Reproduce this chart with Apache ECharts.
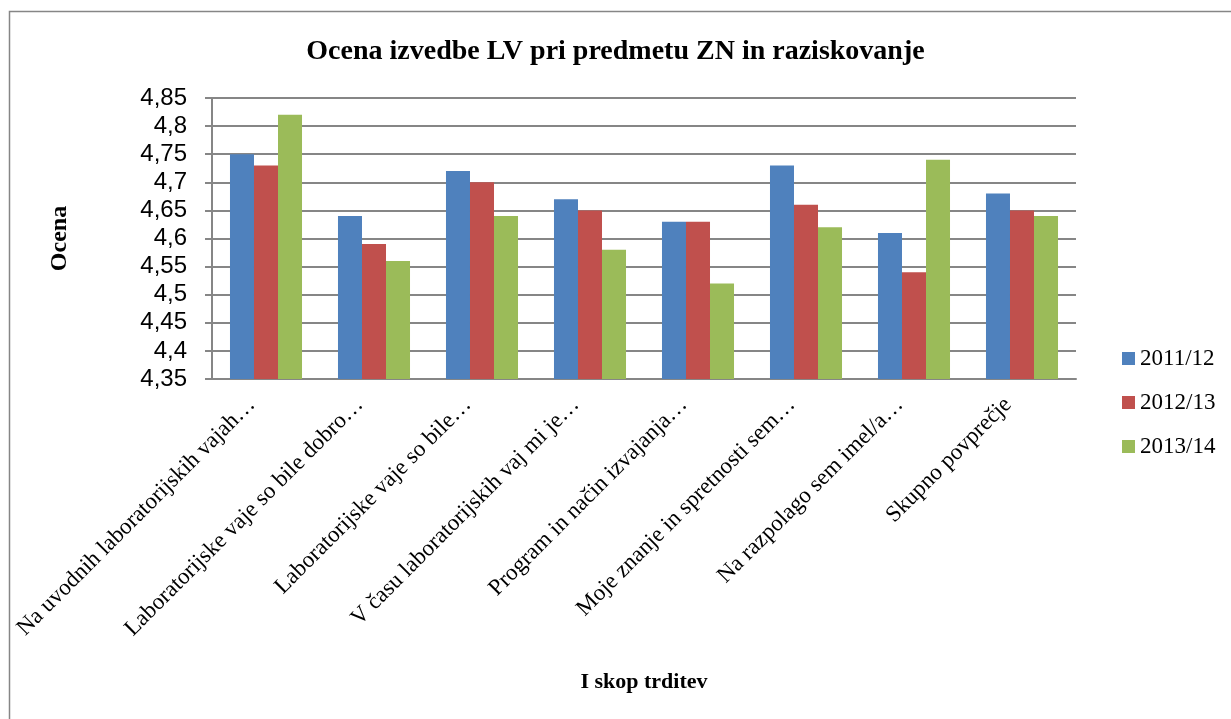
<!DOCTYPE html>
<html>
<head>
    <meta charset="utf-8">
    <script src="https://cdn.jsdelivr.net/npm/echarts@6/dist/echarts.min.js"></script>
    <style>
        html, body { margin: 0; padding: 0; background: #ffffff; }
        #chart { width: 1231px; height: 719px; }
    </style>
</head>
<body>
    <div id="chart"></div>
    <script>
        // podatki
        var categories = [
            'Na uvodnih laboratorijskih vajah…',
            'Laboratorijske vaje so bile dobro…',
            'Laboratorijske vaje so bile…',
            'V času laboratorijskih vaj mi je…',
            'Program in način izvajanja…',
            'Moje znanje in spretnosti sem…',
            'Na razpolago sem imel/a…',
            'Skupno povprečje'
        ];
        var years = ['2011/12', '2012/13', '2013/14'];
        var y2011 = [4.75, 4.64, 4.72, 4.67, 4.63, 4.73, 4.61, 4.68];
        var y2012 = [4.73, 4.59, 4.70, 4.65, 4.63, 4.66, 4.54, 4.65];
        var y2013 = [4.82, 4.56, 4.64, 4.58, 4.52, 4.62, 4.74, 4.64];
        var colors = ['#4F81BD', '#C0504D', '#9BBB59'];

        var serif = '"Liberation Serif", "DejaVu Serif", serif';

        var chart = echarts.init(document.getElementById('chart'));

        var option = {
            animation: false,
            color: colors,
            title: {
                text: 'Ocena izvedbe LV pri predmetu ZN in raziskovanje',
                left: 'center',
                top: 33,
                textStyle: {
                    fontFamily: serif,
                    fontWeight: 'bold',
                    fontSize: 28,
                    color: '#000'
                }
            },
            legend: {
                orient: 'vertical',
                left: 1117,
                top: 342,
                itemWidth: 13,
                itemHeight: 13,
                itemGap: 21,
                icon: 'rect',
                textStyle: {
                    fontFamily: serif,
                    fontSize: 23,
                    color: '#000'
                },
                data: years
            },
            grid: {
                left: 212,
                top: 98,
                right: 155,
                bottom: 340
            },
            xAxis: {
                type: 'category',
                data: categories,
                name: 'I skop trditev',
                nameLocation: 'middle',
                nameGap: 292,
                nameTextStyle: {
                    fontFamily: serif,
                    fontWeight: 'bold',
                    fontSize: 22,
                    color: '#000'
                },
                axisLine: { lineStyle: { color: '#868686', width: 2 } },
                axisTick: { show: false },
                axisLabel: {
                    interval: 0,
                    rotate: 45,
                    margin: 8,
                    padding: [0, 20, 0, 0],
                    fontFamily: serif,
                    fontSize: 23,
                    color: '#000'
                }
            },
            yAxis: {
                type: 'value',
                min: 4.35,
                max: 4.85,
                interval: 0.05,
                name: 'Ocena',
                nameLocation: 'middle',
                nameGap: 140,
                nameTextStyle: {
                    fontFamily: serif,
                    fontWeight: 'bold',
                    fontSize: 24,
                    color: '#000'
                },
                axisLine: { show: true, lineStyle: { color: '#868686', width: 2 } },
                axisTick: { show: true, length: 7, lineStyle: { color: '#868686', width: 2 } },
                splitLine: { lineStyle: { color: '#868686', width: 2 } },
                axisLabel: {
                    margin: 25,
                    fontFamily: '"Liberation Sans", Arial, sans-serif',
                    fontSize: 24,
                    color: '#000',
                    formatter: function (v) {
                        return String(+v.toFixed(2)).replace('.', ',');
                    }
                }
            },
            graphic: [
                {
                    type: 'rect',
                    shape: { x: 9.5, y: 11.5, width: 1260, height: 760 },
                    style: { fill: 'none', stroke: '#868686', lineWidth: 1.5 },
                    silent: true
                }
            ],
            series: [
                { name: years[0], type: 'bar', data: y2011, barGap: '0%', barCategoryGap: '33.3%' },
                { name: years[1], type: 'bar', data: y2012, barGap: '0%', barCategoryGap: '33.3%' },
                { name: years[2], type: 'bar', data: y2013, barGap: '0%', barCategoryGap: '33.3%' }
            ]
        };
        chart.setOption(option);
    </script>
</body>
</html>
